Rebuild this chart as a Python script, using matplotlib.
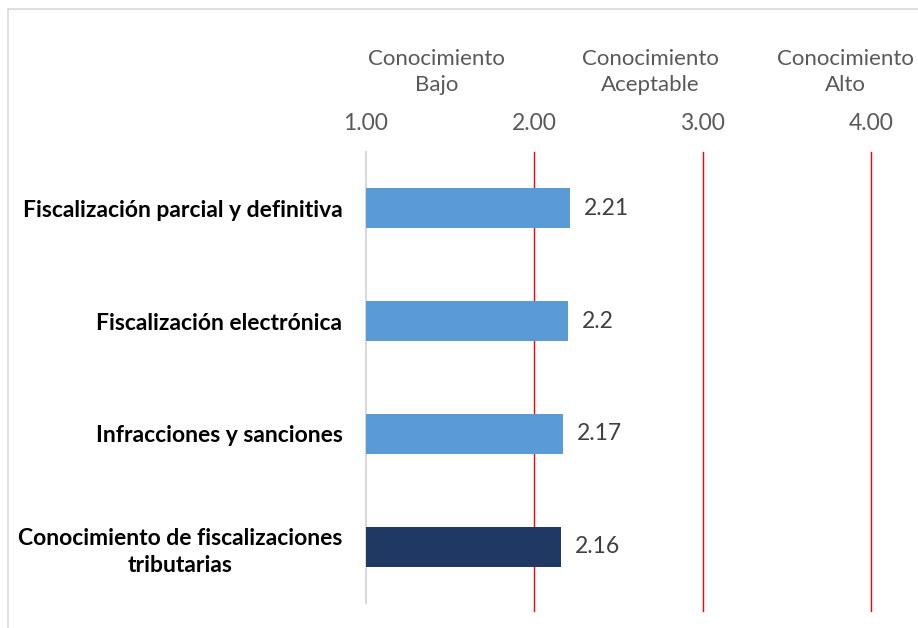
import matplotlib
matplotlib.use("Agg")
import matplotlib.pyplot as plt
import matplotlib.transforms as mtransforms
from matplotlib.patches import Rectangle

# -----------------------------
# DATA
# -----------------------------
categories = [
    "Fiscalización parcial y definitiva",
    "Fiscalización electrónica",
    "Infracciones y sanciones",
    "Conocimiento de fiscalizaciones\ntributarias",
]
values = [2.21, 2.2, 2.17, 2.16]
bar_colors = ["#5B9BD5", "#5B9BD5", "#5B9BD5", "#1F3864"]

x_ticks = [1.0, 2.0, 3.0, 4.0]
ref_lines = [2.0, 3.0, 4.0]
level_names = ["Conocimiento\nBajo", "Conocimiento\nAceptable", "Conocimiento\nAlto"]
level_pos = [1.42, 2.69, 3.85]

plt.rcParams["font.family"] = ["Lato", "DejaVu Sans"]

W, H = 918, 628
fig = plt.figure(figsize=(W / 100, H / 100), dpi=100)
ax = fig.add_axes([366 / W, 1 - 603 / H, 547 / W, 451 / H])

# -----------------------------
# BARS
# -----------------------------
ypos = list(range(len(categories)))
ax.barh(ypos, [v - 1.0 for v in values], left=1.0, height=0.355,
        color=bar_colors, zorder=3)
for y, v in zip(ypos, values):
    ax.annotate(f"{v:g}", (v, y), xytext=(10, 0), textcoords="offset points",
                va="center", ha="left", fontsize=16.5, color="#404040")

for x in ref_lines:
    ax.axvline(x, ymin=-0.018, ymax=1, color="#FF0000", lw=1.0,
               clip_on=False, zorder=2)

ax.set_xlim(1.0, 4.25)
ax.set_ylim(len(categories) - 0.5, -0.5)

ax.xaxis.tick_top()
ax.set_xticks(x_ticks)
ax.set_xticklabels([f"{t:.2f}" for t in x_ticks])
ax.tick_params(axis="x", length=0, pad=13, labelsize=16.5, labelcolor="#595959")

ax.set_yticks(ypos)
ax.set_yticklabels(categories)
ax.tick_params(axis="y", length=0, pad=17, labelsize=16.5)
for lab in ax.get_yticklabels():
    lab.set_fontweight("bold")
    lab.set_multialignment("center")
    lab.set_linespacing(1.4)

for s in ["top", "right", "bottom"]:
    ax.spines[s].set_visible(False)
ax.spines["left"].set_color("#D9D9D9")
ax.spines["left"].set_linewidth(1.5)

# level headers above the axis
trans = mtransforms.blended_transform_factory(ax.transData, fig.transFigure)
for name, x in zip(level_names, level_pos):
    ax.text(x, 1 - 72 / H, name, transform=trans, ha="center", va="center",
            fontsize=16, color="#595959", linespacing=1.4, clip_on=False)

# chart border
fig.patches.append(Rectangle((8 / W, -0.1), 1.2, 1 - 9 / H + 0.1,
                             transform=fig.transFigure, fill=False,
                             edgecolor="#D9D9D9", lw=1.2))

fig.savefig("out.png", dpi=100)
